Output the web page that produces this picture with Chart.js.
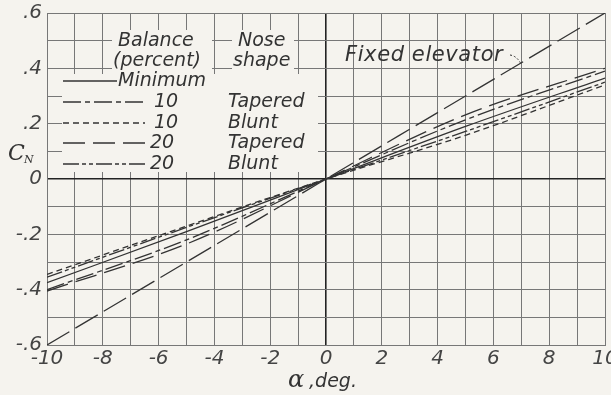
<!DOCTYPE html>
<html>
<head>
<meta charset="utf-8">
<script src="https://cdn.jsdelivr.net/npm/chart.js@4"></script>
<style>
  html, body { margin: 0; padding: 0; background: #f5f3ee; }
  #wrap { width: 611px; height: 395px; }
</style>
</head>
<body>
<div id="wrap"><canvas id="cnChart" width="611" height="395"></canvas></div>
<script>
// angle of attack, deg
const alpha = [-10, -5, 0, 5, 10];
// normal-force coefficient
const cnMinimum   = [-0.375, -0.19, 0, 0.19, 0.365];
const cn10Tapered = [-0.40, -0.22, 0, 0.214, 0.39];
const cn10Blunt   = [-0.345, -0.17, 0, 0.158, 0.34];
const cn20Tapered = [-0.405, -0.235, 0, 0.232, 0.40];
const cn20Blunt   = [-0.355, -0.175, 0, 0.172, 0.35];
const fixedAlpha  = [-10, 10];
const cnFixed     = [-0.6, 0.6];

const xTicks = [-10, -8, -6, -4, -2, 0, 2, 4, 6, 8, 10];
const yTicks = [-0.6, -0.4, -0.2, 0, 0.2, 0.4, 0.6];

const ink = '#333';
const labelFont = 'italic 19px "DejaVu Sans", sans-serif';

function pts(xs, ys) { return xs.map((x, i) => ({ x: x, y: ys[i] })); }

function line(label, xs, ys, dash) {
    return {
        label: label,
        data: pts(xs, ys),
        borderColor: ink,
        borderWidth: 1.3,
        borderDash: dash,
        pointRadius: 0,
        fill: false,
        cubicInterpolationMode: 'monotone'
    };
}

const legendRows = [
    { dash: [], bal: 'Minimum', nose: '' },
    { dash: [18, 4, 5, 4], bal: '10', nose: 'Tapered' },
    { dash: [6, 4], bal: '10', nose: 'Blunt' },
    { dash: [22, 8], bal: '20', nose: 'Tapered' },
    { dash: [16, 3, 4, 3, 4, 3], bal: '20', nose: 'Blunt' }
];

const paper = {
    id: 'paper',
    beforeDraw(chart) {
        const c = chart.ctx;
        c.save();
        c.fillStyle = '#f5f3ee';
        c.fillRect(0, 0, chart.width, chart.height);
        c.restore();
    }
};

const notes = {
    id: 'notes',
    afterDatasetsDraw(chart) {
        const c = chart.ctx;
        c.save();
        c.fillStyle = '#f5f3ee';
        // blank the grid behind the key
        c.fillRect(62, 74, 256, 98);
        c.fillRect(112, 30, 100, 44);
        c.fillRect(232, 30, 62, 44);

        c.fillStyle = ink;
        c.font = labelFont;
        c.textBaseline = 'middle';
        c.textAlign = 'left';
        c.fillText('Balance', 118, 41);
        c.fillText('(percent)', 113, 61);
        c.fillText('Nose', 238, 41);
        c.fillText('shape', 233, 61);

        const rowY = [81, 102, 123, 143, 164];
        c.strokeStyle = ink;
        c.lineWidth = 1.3;
        legendRows.forEach((r, i) => {
            const y = rowY[i];
            const x1 = i === 0 ? 117 : 145;
            c.setLineDash(r.dash);
            c.beginPath();
            c.moveTo(63, y);
            c.lineTo(x1, y);
            c.stroke();
            c.setLineDash([]);
            if (i === 0) {
                c.fillText(r.bal, 118, y);
            } else {
                c.fillText(r.bal, i > 2 ? 150 : 154, y);
                c.fillText(r.nose, 228, y);
            }
        });

        c.font = 'italic 21px "DejaVu Sans", sans-serif';
        c.letterSpacing = '0.6px';
        c.fillText('Fixed elevator', 345, 56);
        c.letterSpacing = '0px';
        c.setLineDash([2, 2]);
        c.lineWidth = 1;
        c.beginPath();
        c.moveTo(510, 55);
        c.quadraticCurveTo(517, 56, 521, 64);
        c.stroke();
        c.setLineDash([]);

        // axis titles
        c.font = 'italic 22px "DejaVu Serif", serif';
        c.fillText('C', 8, 154);
        c.font = 'italic 11px "DejaVu Serif", serif';
        c.fillText('N', 24, 160);
        c.font = 'italic 24px "DejaVu Serif", serif';
        c.fillText('\u03b1', 288, 381);
        c.font = labelFont;
        c.fillText(' ,deg.', 303, 382);
        c.restore();
    }
};

function gridColor(ctx) {
    return ctx.tick && ctx.tick.value === 0 ? '#222' : '#777';
}
function gridWidth(ctx) {
    return ctx.tick && ctx.tick.value === 0 ? 1.6 : 1;
}

const tickFont = { family: '"DejaVu Sans", sans-serif', size: 20, style: 'italic' };

new Chart(document.getElementById('cnChart'), {
    type: 'line',
    data: {
        datasets: [
            line('Minimum', alpha, cnMinimum, []),
            line('10 Tapered', alpha, cn10Tapered, [18, 4, 5, 4]),
            line('10 Blunt', alpha, cn10Blunt, [6, 4]),
            line('20 Tapered', alpha, cn20Tapered, [22, 8]),
            line('20 Blunt', alpha, cn20Blunt, [16, 3, 4, 3, 4, 3]),
            line('Fixed elevator', fixedAlpha, cnFixed, [26, 7])
        ]
    },
    options: {
        responsive: false,
        animation: false,
        layout: { padding: { top: 13, right: 6, left: 0, bottom: 0 } },
        plugins: { legend: { display: false }, tooltip: { enabled: false } },
        scales: {
            x: {
                type: 'linear',
                min: -10,
                max: 10,
                ticks: {
                    stepSize: 1,
                    color: '#444',
                    font: tickFont,
                    maxRotation: 0,
                    autoSkip: false,
                    padding: 2,
                    callback: v => (xTicks.includes(v) ? String(v) : '')
                },
                grid: { color: gridColor, lineWidth: gridWidth, drawTicks: false },
                border: { display: true, color: '#777' },
                afterFit(s) { s.height = 50; s.paddingLeft = 0; s.paddingRight = 0; }
            },
            y: {
                type: 'linear',
                min: -0.6,
                max: 0.6,
                ticks: {
                    stepSize: 0.1,
                    color: '#444',
                    font: tickFont,
                    padding: 5,
                    autoSkip: false,
                    callback: v => {
                        const k = Math.round(v * 10);
                        if (!yTicks.some(t => Math.round(t * 10) === k)) return '';
                        if (k === 0) return '0';
                        return (k < 0 ? '-' : '') + '.' + Math.abs(k);
                    }
                },
                grid: { color: gridColor, lineWidth: gridWidth, drawTicks: false },
                border: { display: true, color: '#777' },
                afterFit(s) { s.width = 47; s.paddingTop = 0; s.paddingBottom = 0; }
            }
        }
    },
    plugins: [paper, notes]
});
</script>
</body>
</html>
